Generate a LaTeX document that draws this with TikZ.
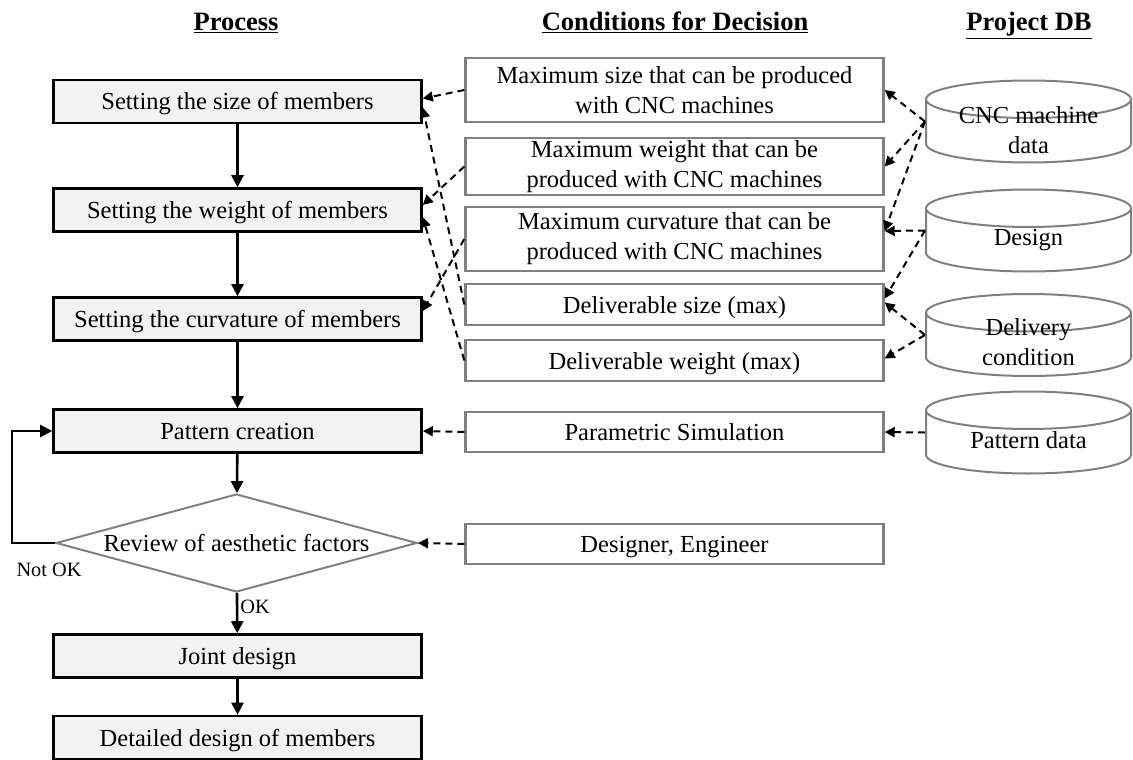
\documentclass[tikz,border=0pt]{standalone}
\usepackage{fontspec}
\setmainfont{Liberation Serif}
\usetikzlibrary{shapes.geometric,arrows.meta}
\definecolor{boxgray}{HTML}{F2F2F2}
\definecolor{edgegray}{HTML}{808080}
\tikzstyle{oneline}=[text height=20pt, text depth=3pt]
\tikzstyle{process}=[draw=black, line width=2.6pt, fill=boxgray, minimum width=368pt, minimum height=43pt, inner sep=0pt, oneline]
\tikzstyle{cond}=[draw=edgegray, line width=2.4pt, minimum width=418pt, align=center, inner sep=0pt]
\tikzstyle{dbase}=[cylinder, shape border rotate=90, anchor=shape center, draw=edgegray, line width=2pt, aspect=0.54, minimum width=205pt, minimum height=82pt, inner sep=0pt]
\tikzstyle{decision}=[diamond, draw=edgegray, line width=2pt, aspect=3.63, minimum width=361pt, minimum height=98pt, inner sep=0pt, oneline]
\tikzstyle{flow}=[line width=2.6pt, -{Triangle[length=12pt,width=12pt]}]
\tikzstyle{link}=[line width=2pt, dash pattern=on 7pt off 5pt, -{Triangle[length=10pt,width=10pt]}]
\tikzstyle{head}=[font=\fontsize{26.5}{30}\selectfont\bfseries, anchor=base]
\tikzstyle{lbl}=[font=\fontsize{20.3}{24}\selectfont, inner sep=2pt]

\begin{document}
\begin{tikzpicture}[x=1pt, y=-1pt, font=\fontsize{24.5}{30}\selectfont]
\useasboundingbox (0,0) rectangle (1133,760);
% headings
\node[head] (HProc) at (236,31) {\underline{Process}};
\node[head] (HCond) at (675,31) {\underline{Conditions for Decision}};
\node[head] (HDB) at (1029,31) {\underline{Project DB}};
% process column
\node[process] (Size) at (237.5,101.5) {Setting the size of members};
\node[process] (Weight) at (237.5,210) {Setting the weight of members};
\node[process] (Curv) at (237.5,319) {Setting the curvature of members};
\node[process] (Pattern) at (237.5,431) {Pattern creation};
\node[decision] (Review) at (236.5,543) {Review of aesthetic factors};
\node[process] (Joint) at (237.5,656) {Joint design};
\node[process] (Detail) at (237.5,737.5) {Detailed design of members};
\node[lbl] (NotOk) at (49,570) {Not OK};
% conditions column
\node[cond, minimum height=63.5pt] (MaxSize) at (674.5,90) {Maximum size that can be produced\\with CNC machines};
\node[cond, minimum height=56.5pt] (MaxWeight) at (674.5,166.5) {Maximum weight that can be\\produced with CNC machines};
\node[cond, minimum height=63.5pt] (MaxCurv) at (674.5,239) {Maximum curvature that can be\\produced with CNC machines};
\node[cond, oneline, minimum height=40.5pt] (DelSize) at (674.5,304.5) {Deliverable size (max)};
\node[cond, oneline, minimum height=40.5pt] (DelWeight) at (674.5,360.5) {Deliverable weight (max)};
\node[cond, oneline, minimum height=39.5pt] (Sim) at (674.5,432) {Parametric Simulation};
\node[cond, oneline, minimum height=39.5pt] (Eng) at (674.5,544) {Designer, Engineer};
% project DB column
\node[dbase] (CNC) at (1028.5,121.5) {\phantom{Design}};
\node[dbase] (Design) at (1028.5,230.5) {\phantom{Design}};
\node[dbase] (Delivery) at (1028.5,335) {\phantom{Design}};
\node[dbase] (PData) at (1028.5,432.5) {\phantom{Design}};
\node[align=center] (CNCt) at (1028.5,130) {CNC machine\\data};
\node[oneline] (Designt) at (1028.5,237) {Design};
\node[align=center] (Deliveryt) at (1028.5,342) {Delivery\\condition};
\node[oneline] (PDatat) at (1028.5,440) {Pattern data};
% main flow
\draw[flow] (Size) -- (Weight);
\draw[flow] (Weight) -- (Curv);
\draw[flow] (Curv) -- (Pattern);
\draw[flow] (Pattern) -- (Review);
\draw[flow] (Review) -- node[lbl, right, pos=0.35] (Ok) {OK} (Joint);
\draw[flow] (Joint) -- (Detail);
\draw[flow] (Review.west) -- ++(-43,0) |- (Pattern.west);
% conditions to process
\draw[link] (MaxSize.west) -- ([yshift=3pt]Size.east);
\draw[link] (DelSize.west) -- ([yshift=-6pt]Size.east);
\draw[link] (MaxWeight.west) -- ([yshift=5pt]Weight.east);
\draw[link] (DelWeight.west) -- ([yshift=-7pt]Weight.east);
\draw[link] (MaxCurv.west) -- ([yshift=8pt]Curv.east);
\draw[link] (Sim.west) -- (Pattern.east);
\draw[link] (Eng.west) -- (Review.east);
% DB to conditions
\draw[link] (CNC.shape center -| CNC.west) -- (MaxSize.east);
\draw[link] (CNC.shape center -| CNC.west) -- (MaxWeight.east);
\draw[link] (CNC.shape center -| CNC.west) -- ([yshift=8pt]MaxCurv.east);
\draw[link] (Design.shape center -| Design.west) -- ([yshift=8pt]MaxCurv.east);
\draw[link] (Design.shape center -| Design.west) -- ([yshift=6pt]DelSize.east);
\draw[link] (Delivery.shape center -| Delivery.west) -- ([yshift=2pt]DelSize.east);
\draw[link] (Delivery.shape center -| Delivery.west) -- ([yshift=2pt]DelWeight.east);
\draw[link] (PData.shape center -| PData.west) -- (Sim.east);
\end{tikzpicture}
\end{document}
